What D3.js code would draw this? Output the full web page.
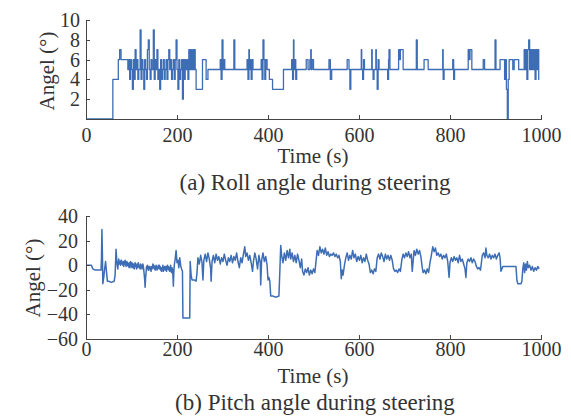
<!DOCTYPE html>
<html>
<head>
<meta charset="utf-8">
<script src="https://cdn.jsdelivr.net/npm/d3@7"></script>
<style>
  body { margin: 0; background: #fff; }
  svg { display: block; }
  .axis path, .axis line { stroke: #444; stroke-width: 1; shape-rendering: crispEdges; }
  .series { fill: none; stroke: #3d6db5; stroke-width: 1.3; stroke-linejoin: round; }
  .series.pitch { stroke-width: 1.5; }
</style>
</head>
<body>
<div id="chart"></div>
<script>
// x axis ticks (shared)
var timeTicks = [0, 200, 400, 600, 800, 1000];

// (a) roll angle, step change points [time s, angle deg]
var rollTicks = [2, 4, 6, 8, 10];
var rollSteps = [
  [0,0],[59,4],[71,6],[74,7],[77,6],[92,5],[94,6],[96,4],[98,6],[100,5],[102,3],[104,6],[106,4],[108,7],
  [110,5],[112,6],[114,4],[116,5],[119,9],[121,4],[123,6],[125,5],[127,3],[129,6],[131,5],[133,4],[135,7],
  [137,8],[139,5],[141,4],[143,6],[145,5],[148,9],[150,4],[152,6],[154,5],[156,7],[158,4],[160,5],[162,3],
  [164,6],[166,4],[168,5],[170,6],[172,4],[174,5],[176,6],[178,4],[180,6],[182,7],[184,5],[186,6],[188,4],
  [190,5],[192,6],[194,4],[196,6],[198,8],[200,5],[202,3],[204,6],[206,4],[208,5],[210,6],[212,2],[214,6],
  [216,4],[218,6],[220,5],[222,6],[224,4],[226,7],[228,5],[230,7],[232,5],[234,7],[236,5],[238,7],[240,5],
  [242,3],[256,6],[264,4],[268,5],[295,6],[297,4],[299,8],[301,5],[303,6],[305,5],[325,8],[327,5],[354,6],
  [356,4],[358,7],[359,5],[361,6],[363,4],[365,6],[367,5],[385,6],[387,4],[389,8],[391,6],[393,4],[395,6],
  [398,5],[403,4],[410,3],[434,5],[452,6],[454,4],[456,8],[457,5],[459,6],[461,4],[463,5],[484,6],[488,5],
  [492,6],[494,7],[495,5],[497,6],[500,5],[534,6],[537,4],[540,5],[574,6],[578,5],[580,3],[582,5],[605,7],
  [606,5],[608,4],[610,6],[612,5],[628,7],[629,5],[631,4],[633,5],[637,7],[638,5],[640,3],[642,6],[644,5],
  [663,4],[665,6],[666,7],[668,5],[687,7],[689,6],[691,7],[697,5],[726,8],[728,5],[743,6],[752,5],[784,7],
  [785,4],[787,5],[806,6],[808,4],[810,5],[840,7],[842,6],[844,7],[848,5],[873,6],[876,5],[899,8],[901,5],
  [910,6],[920,4],[922,6],[924,3],[926,0],[928,4],[930,6],[938,5],[941,6],[951,5],[963,7],[965,5],[967,7],
  [969,4],[971,7],[973,8],[975,5],[977,7],[979,5],[981,7],[983,5],[985,7],[987,4],[989,7],[991,5],[993,7],
  [995,4],[996,4]
];

// (b) pitch angle samples [time s, angle deg]
var pitchTicks = [-60, -40, -20, 0, 20, 40];
var pitchPoints = [
  [0,0],[12,0],[15,-3],[20,-4],[33,-4],[34,5],[35,29],[36,10],[37,-15],[39,-10],[41,-3],[43,3],[45,-5],
  [47,-13],[50,-13],[55,-14],[62,-13],[64,-8],[66,13],[68,2],[69,-1],[70,-3],[71,2],[72,5],[73,1],[74,3],
  [75,2],[76,0],[77,4],[78,4],[79,1],[80,2],[81,0],[82,3],[83,-1],[84,3],[85,1],[86,4],[87,1],[88,-1],
  [89,2],[90,3],[91,0],[92,2],[93,-1],[94,1],[95,-2],[96,2],[97,0],[98,3],[99,-2],[100,0],[101,2],[102,1],
  [103,-2],[104,1],[105,-1],[106,-3],[107,1],[108,2],[109,-1],[110,0],[111,-3],[112,1],[113,-2],[114,0],
  [115,2],[116,-1],[117,-2],[118,0],[119,-3],[120,1],[121,-1],[122,0],[123,-3],[124,-1],[125,1],[126,-1],
  [127,-4],[128,-8],[129,-12],[130,-18],[131,-10],[132,-6],[133,-1],[134,-2],[135,0],[136,-3],[137,-4],
  [138,-1],[139,-2],[140,-1],[141,-4],[142,-2],[143,-5],[144,-1],[145,-3],[146,-2],[147,1],[148,-2],
  [149,0],[150,-3],[151,-1],[152,-4],[153,-2],[154,0],[155,-1],[156,-4],[157,-2],[158,-3],[159,0],
  [160,-2],[161,0],[162,-3],[163,-1],[164,-4],[165,-2],[166,-5],[167,-2],[168,-3],[169,0],[170,-5],
  [171,-2],[172,-3],[173,-1],[174,-4],[175,-1],[176,-3],[177,-5],[178,-1],[179,0],[180,-3],[181,-1],
  [182,-4],[183,-2],[184,-5],[185,-2],[186,0],[187,-4],[188,-6],[189,-2],[190,-3],[191,-8],[192,-17],
  [193,-6],[194,0],[196,5],[198,12],[200,2],[202,4],[204,-2],[206,6],[208,0],[210,-3],
  [212,-5],[213,-43],[220,-43],[228,-43],[229,3],[231,-8],[233,-12],[238,-12],[242,-13],[244,-6],[246,6],
  [249,1],[252,8],[255,2],[257,-12],[259,4],[262,9],[265,3],[268,10],[271,5],[274,-3],[275,-13],[277,3],
  [280,8],[283,2],[286,9],[289,4],[292,7],[295,1],[298,6],[301,3],[304,9],[307,4],[310,0],[313,6],[316,3],
  [319,8],[322,2],[325,7],[328,4],[331,10],[334,3],[337,-2],[340,6],[343,2],[346,9],[349,15],[351,7],
  [354,10],[357,4],[360,8],[363,2],[366,-5],[368,3],[371,10],[374,5],[377,-3],[380,8],[383,2],[384,-16],
  [386,4],[389,10],[392,3],[395,7],[398,0],[400,-12],[402,-10],[404,-13],[406,-25],[410,-25],[418,-26],
  [424,-25],[426,-5],[428,16],[430,8],[433,2],[436,10],[439,4],[442,12],[445,6],[448,13],[450,5],[453,10],
  [456,3],[459,8],[462,2],[465,9],[468,4],[471,-2],[474,5],[476,-5],[479,-8],[482,-3],[485,-6],[488,-2],
  [491,-8],[494,-4],[497,-7],[500,-3],[503,-6],[506,5],[508,12],[511,8],[514,15],[517,10],[520,13],
  [523,9],[526,14],[529,8],[532,11],[535,7],[538,9],[541,8],[544,10],[547,7],[550,9],[553,6],[556,8],
  [559,3],[561,-11],[563,-4],[565,-8],[568,0],[571,6],[574,10],[577,4],[580,8],[583,5],[586,12],[589,6],
  [592,9],[595,3],[598,7],[601,4],[604,8],[607,2],[610,6],[613,3],[616,9],[619,4],[622,1],[625,-6],
  [628,-4],[631,-7],[634,-3],[637,-5],[640,6],[643,9],[646,5],[649,10],[652,7],[655,3],[658,9],[661,5],
  [664,8],[667,4],[670,8],[673,4],[676,-3],[679,-5],[682,-4],[685,-6],[688,-3],[691,-5],[694,4],[697,9],
  [700,6],[703,10],[706,7],[709,11],[712,6],[715,9],[717,-5],[719,3],[721,12],[724,8],[727,13],[730,9],
  [733,12],[736,7],[739,-2],[741,-6],[744,-4],[747,-7],[750,-3],[753,-6],[756,2],[759,8],[762,15],
  [765,11],[768,14],[771,8],[774,10],[777,7],[780,9],[783,5],[786,8],[789,6],[792,9],[795,3],[798,-10],
  [800,2],[803,6],[806,3],[809,7],[812,4],[815,6],[818,2],[821,8],[824,3],[827,5],[830,1],[833,-3],
  [835,-10],[837,2],[840,5],[843,3],[846,6],[849,2],[852,5],[855,3],[858,-1],[861,-3],[864,-2],[867,-4],
  [869,2],[871,8],[874,10],[877,6],[879,14],[881,8],[884,6],[887,9],[890,5],[893,8],[896,6],[899,9],
  [902,5],[905,8],[908,10],[910,6],[912,-5],[914,-3],[916,-1],[945,-1],[947,-12],[949,-15],[956,-15],
  [958,-13],[960,-3],[962,2],[964,-6],[966,1],[968,-4],[970,3],[972,-2],[975,0],[978,-4],[981,-1],
  [984,-5],[987,-2],[990,-4],[993,-1],[996,-3]
];

var width = 571, height = 417;
var serif = "'Liberation Serif', 'Times New Roman', Times, serif";

var svg = d3.select("#chart").append("svg")
    .attr("width", width)
    .attr("height", height)
    .attr("font-family", serif);

// draws one panel: axes, line, axis titles and caption
function drawPanel(p) {
    var x = d3.scaleLinear().domain([0, 1000]).range([86, 541]);
    var y = d3.scaleLinear().domain(p.yDomain).range([p.bottom, p.top]);

    var line = d3.line()
        .x(function (d) { return x(d[0]); })
        .y(function (d) { return y(d[1]); });
    if (p.step) line.curve(d3.curveStepAfter);

    svg.append("path")
        .datum(p.data)
        .attr("class", "series " + p.name)
        .attr("d", line);

    var gx = svg.append("g")
        .attr("class", "axis")
        .attr("transform", "translate(0," + p.bottom + ")")
        .call(d3.axisBottom(x).tickValues(timeTicks).tickFormat(d3.format("d"))
            .tickSizeInner(-4).tickSizeOuter(0).tickPadding(p.xPad));

    var gy = svg.append("g")
        .attr("class", "axis")
        .attr("transform", "translate(86,0)")
        .call(d3.axisLeft(y).tickValues(p.yTicks).tickFormat(d3.format("d"))
            .tickSizeInner(-4).tickSizeOuter(0).tickPadding(p.yPad));

    [gx, gy].forEach(function (g) {
        g.attr("font-family", serif).attr("font-size", 20);
        g.selectAll("text").attr("fill", "#333");
    });

    svg.append("text")
        .attr("transform", "translate(" + p.yLabelX + "," + p.yLabelY + ") rotate(-90)")
        .attr("text-anchor", "middle")
        .attr("dy", "0.35em")
        .attr("font-size", 21)
        .attr("fill", "#333")
        .text("Angel (°)");

    svg.append("text")
        .attr("x", 313)
        .attr("y", p.bottom + 44)
        .attr("text-anchor", "middle")
        .attr("font-size", 21)
        .attr("fill", "#333")
        .text("Time (s)");

    svg.append("text")
        .attr("x", 315)
        .attr("y", p.bottom + 71)
        .attr("text-anchor", "middle")
        .attr("font-size", 23)
        .attr("fill", "#333")
        .text(p.caption);
}

drawPanel({
    name: "roll", data: rollSteps, step: true,
    yDomain: [0, 10], yTicks: rollTicks,
    top: 20, bottom: 119, xPad: 9, yPad: 6,
    yLabelX: 47, yLabelY: 71,
    caption: "(a) Roll angle during steering"
});

drawPanel({
    name: "pitch", data: pitchPoints, step: false,
    yDomain: [-60, 40], yTicks: pitchTicks,
    top: 216, bottom: 339, xPad: 3, yPad: 8,
    yLabelX: 33, yLabelY: 278,
    caption: "(b) Pitch angle during steering"
});
</script>
</body>
</html>
